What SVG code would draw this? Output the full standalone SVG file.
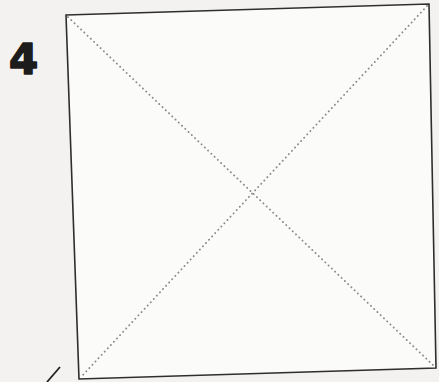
<svg xmlns="http://www.w3.org/2000/svg" width="439" height="382" viewBox="0 0 439 382">
<style>
.frame{fill:#fbfbfa;stroke:#2e2e2e;stroke-width:1.6}
.fold{fill:none;stroke:#8a8a8a;stroke-width:1.9;stroke-dasharray:0.1 4.4;stroke-linecap:round}
.num{font-family:"DejaVu Sans","Liberation Sans",Arial,sans-serif;font-weight:bold;font-size:42px;fill:#1c1c1c;stroke:#1c1c1c;stroke-width:1.6;stroke-linejoin:round}
</style>
<rect width="439" height="382" fill="#f3f2f0"/>
<g id="step-number"><text class="num" x="9" y="74">4</text></g>
<g id="paper"><polygon class="frame" points="66,15 429,4 436,368 79,379"/></g>
<g id="connectors">
<line class="fold" x1="68" y1="17" x2="434" y2="366"/>
<line class="fold" x1="427" y1="6" x2="81" y2="377"/>
<line x1="47" y1="382" x2="60" y2="367" stroke="#222" stroke-width="1.8"/>
</g>
</svg>
